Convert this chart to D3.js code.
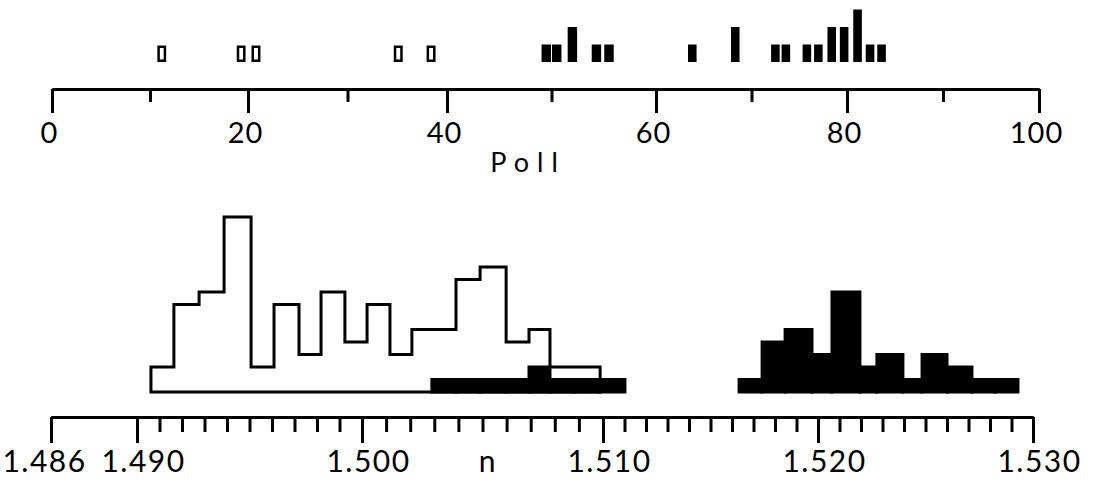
<!DOCTYPE html>
<html><head><meta charset="utf-8">
<script src="https://cdn.jsdelivr.net/npm/d3@7"></script>
<style>
body{margin:0;background:#fff}
svg{display:block}
text{font-family:Lato,"Liberation Sans",sans-serif;fill:#000}
</style>
</head><body>
<svg id="c" width="1110" height="491"></svg>
<script>
// ---- Top strip: Poll ----
const pollMajorTicks = [0, 20, 40, 60, 80, 100];
const pollMinorTicks = [10, 30, 50, 70, 90];
const pollTickLabels = ["0", "20", "40", "60", "80", "100"];
const pollOpenValues = [11.2, 19.3, 20.8, 35.1, 38.4];
const pollOpenCounts = [1, 1, 1, 1, 1];
const pollFilledValues = [49.5, 50.5, 52.0, 54.3, 55.5, 63.8, 68.3, 72.5, 73.6, 75.8, 77.0, 78.4, 79.7, 81.1, 82.4, 83.6];
const pollFilledCounts = [1, 1, 2, 1, 1, 1, 2, 1, 1, 1, 1, 2, 2, 3, 1, 1];

// ---- Bottom: refractive index n ----
const nMajorTicks = [1.486, 1.490, 1.500, 1.510, 1.520, 1.530];
const nTickLabels = ["1.486", "1.490", "1.500", "1.510", "1.520", "1.530"];
const openEdges = [1.49062, 1.49164, 1.49276, 1.49387, 1.49507, 1.49609, 1.49720, 1.49818, 1.49924, 1.50021,
                   1.50116, 1.50207, 1.50299, 1.50390, 1.50490, 1.50598, 1.50693, 1.50780, 1.50884, 1.50988];
const openCounts = [2, 7, 8, 14, 2, 7, 3, 8, 4, 7, 3, 5, 5, 9, 10, 4, 5, 2, 2];
const filledLeftEdges = [1.50290, 1.50390, 1.50490, 1.50598, 1.50693, 1.50780, 1.50884, 1.50988, 1.51102];
const filledLeftCounts = [1, 1, 1, 1, 2, 1, 1, 1];
const filledRightEdges = [1.51633, 1.51740, 1.51847, 1.51972, 1.52065, 1.52195, 1.52274, 1.52395, 1.52484,
                          1.52600, 1.52716, 1.52823, 1.52930];
const filledRightCounts = [1, 4, 5, 3, 8, 2, 3, 1, 3, 2, 1, 1];

const svg = d3.select("#c");

// scales (hand-drawn axes are slightly uneven: piecewise through the major ticks)
const xTop = d3.scaleLinear().domain(pollMajorTicks).range([52, 248, 447, 656, 847, 1039]);
const yTop = d3.scaleLinear().domain([0, 3]).range([62, 9.5]);
const xBot = d3.scaleLinear().domain(nMajorTicks).range([51, 137, 362, 603, 818, 1033]);
const yBot = d3.scaleLinear().domain([0, 14]).range([392, 217]);

// ---- top axis ----
const topAxisY = 89;
const gTopMinor = svg.append("g").attr("transform", `translate(0,${topAxisY})`)
  .call(d3.axisBottom(xTop).tickValues(pollMinorTicks).tickSize(13).tickSizeOuter(0).tickFormat(""));
const gTop = svg.append("g").attr("transform", `translate(0,${topAxisY})`)
  .call(d3.axisBottom(xTop).tickValues(pollMajorTicks).tickSize(24).tickSizeOuter(0)
        .tickFormat((d, i) => pollTickLabels[i]));
[gTopMinor, gTop].forEach(g => {
  g.select(".domain").attr("stroke", "#000").attr("stroke-width", 3);
  g.selectAll(".tick line").attr("stroke", "#000").attr("stroke-width", 3);
  g.attr("font-family", null).attr("font-size", null);
});
gTop.selectAll(".tick text").attr("y", 54).attr("dy", 0).attr("dx", -3)
  .style("font-size", "29px").style("letter-spacing", "1px").attr("fill", "#000");

svg.append("text").attr("x", 528).attr("y", 172).attr("text-anchor", "middle")
  .style("font-size", "27px").style("letter-spacing", "8px").text("Poll");

// top bars
const barW = v => xTop(v + 0.5) - xTop(v - 0.5) - 1;
svg.append("g").selectAll("rect").data(pollFilledValues).join("rect")
  .attr("x", d => xTop(d) - barW(d) / 2)
  .attr("width", d => barW(d))
  .attr("y", (d, i) => yTop(pollFilledCounts[i]))
  .attr("height", (d, i) => yTop(0) - yTop(pollFilledCounts[i]))
  .attr("fill", "#000");
const sw = 2.5;
svg.append("g").selectAll("rect").data(pollOpenValues).join("rect")
  .attr("x", d => xTop(d) - barW(d) / 2 + sw / 2)
  .attr("width", d => barW(d) - sw)
  .attr("y", (d, i) => yTop(pollOpenCounts[i]) + sw / 2 + 1)
  .attr("height", (d, i) => yTop(0) - yTop(pollOpenCounts[i]) - sw - 1)
  .attr("fill", "#fff").attr("stroke", "#000").attr("stroke-width", sw);

// ---- bottom histogram: open outline ----
const pts = [[openEdges[0], 0]];
openCounts.forEach((c, i) => pts.push([openEdges[i], c]));
pts.push([openEdges[openEdges.length - 1], openCounts[openCounts.length - 1]]);
pts.push([openEdges[openEdges.length - 1], 0]);
const line = d3.line().x(d => xBot(d[0])).y(d => yBot(d[1])).curve(d3.curveStepAfter);
svg.append("path").attr("d", line(pts) + "Z")
  .attr("fill", "none").attr("stroke", "#000").attr("stroke-width", 3)
  .attr("stroke-linejoin", "miter");

function filled(edges, counts) {
  svg.append("g").selectAll("rect").data(counts).join("rect")
    .attr("x", (c, i) => xBot(edges[i]))
    .attr("width", (c, i) => xBot(edges[i + 1]) - xBot(edges[i]))
    .attr("y", c => yBot(c))
    .attr("height", c => yBot(0) - yBot(c))
    .attr("fill", "#000").attr("stroke", "#000").attr("stroke-width", 3);
}
filled(filledLeftEdges, filledLeftCounts);
filled(filledRightEdges, filledRightCounts);

// ---- bottom axis ----
const botAxisY = 417;
const nMinor = d3.range(1491, 1530).map(d => d / 1000).filter(d => !nMajorTicks.some(m => Math.abs(m - d) < 1e-9));
const gBotMinor = svg.append("g").attr("transform", `translate(0,${botAxisY})`)
  .call(d3.axisBottom(xBot).tickValues(nMinor).tickSize(15).tickSizeOuter(0).tickFormat(""));
const gBot = svg.append("g").attr("transform", `translate(0,${botAxisY})`)
  .call(d3.axisBottom(xBot).tickValues(nMajorTicks).tickSize(26).tickSizeOuter(0)
        .tickFormat((d, i) => nTickLabels[i]));
[gBotMinor, gBot].forEach(g => {
  g.select(".domain").attr("stroke", "#000").attr("stroke-width", 3);
  g.selectAll(".tick line").attr("stroke", "#000").attr("stroke-width", 3);
  g.attr("font-family", null).attr("font-size", null);
});
gBot.selectAll(".tick text").attr("y", 55).attr("dy", 0)
  .attr("dx", (d, i) => i === 0 ? -7 : 6)
  .style("font-size", "30px").style("letter-spacing", "1.5px").attr("fill", "#000");

svg.append("text").attr("x", 487).attr("y", 472).attr("text-anchor", "middle")
  .style("font-size", "30px").text("n");
</script>
</body></html>
